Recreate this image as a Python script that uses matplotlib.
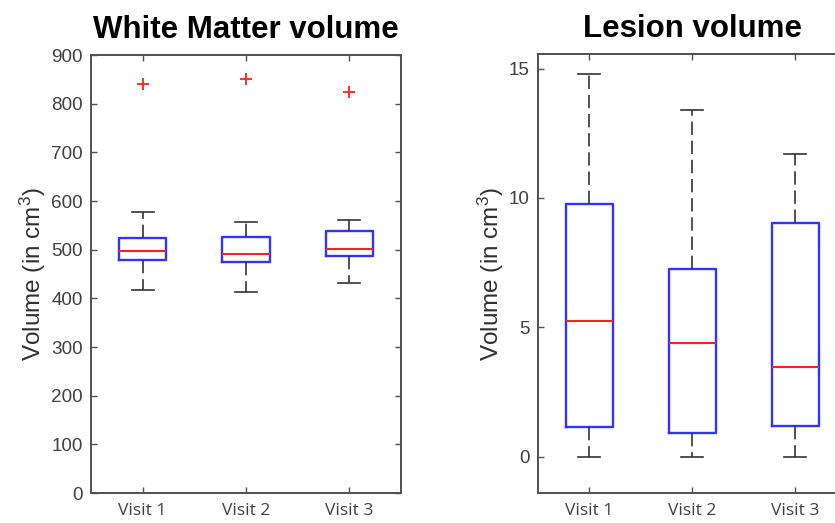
import matplotlib.pyplot as plt

# Valori (boxplot stile MATLAB)
visite = ['Visit 1', 'Visit 2', 'Visit 3']

# White Matter volume
wm_q1 = [478, 475, 488]
wm_med = [497, 491, 501]
wm_q3 = [524, 526, 539]
wm_lo = [418, 414, 432]
wm_hi = [577, 557, 560]
wm_out = [[841], [851], [825]]

# Lesion volume
les_q1 = [1.16, 0.90, 1.17]
les_med = [5.24, 4.39, 3.48]
les_q3 = [9.75, 7.26, 9.04]
les_lo = [0.0, 0.0, 0.0]
les_hi = [14.79, 13.40, 11.70]
les_out = [[], [], []]

plt.rcParams['font.family'] = ['Liberation Sans', 'DejaVu Sans']
plt.rcParams['mathtext.fontset'] = 'custom'
plt.rcParams['mathtext.rm'] = 'Liberation Sans'
plt.rcParams['mathtext.it'] = 'Liberation Sans'

SPINE = '#505050'
TXT = '#404040'


def make_stats(q1, med, q3, lo, hi, out):
    stats = []
    for i in range(len(med)):
        stats.append(dict(q1=q1[i], med=med[i], q3=q3[i], whislo=lo[i],
                          whishi=hi[i], fliers=out[i], label=visite[i]))
    return stats


def disegna(ax, stats, ylim, yticks, titolo):
    ax.bxp(stats, positions=[1, 2, 3], widths=0.46, capwidths=0.21,
           boxprops=dict(color='#3333ff', linewidth=1.7),
           medianprops=dict(color='#ff2020', linewidth=1.5),
           whiskerprops=dict(color='#333333', linewidth=1.2, linestyle=(0, (8, 3.5))),
           capprops=dict(color='#333333', linewidth=1.2),
           flierprops=dict(marker='+', markeredgecolor='#ff2020', markersize=9,
                           markeredgewidth=1.3, linestyle='none'))
    ax.set_xlim(0.5, 3.5)
    ax.set_ylim(*ylim)
    ax.set_yticks(yticks)
    ax.set_xticks([1, 2, 3])
    ax.set_xticklabels(visite, fontfamily='Open Sans', fontsize=12.5, color=TXT)
    ax.tick_params(axis='y', labelsize=13.6, labelcolor=TXT, pad=6)
    ax.tick_params(axis='x', pad=7)
    ax.tick_params(direction='in', length=4, width=1, color=SPINE,
                   top=True, right=True)
    for sp in ax.spines.values():
        sp.set_color(SPINE)
        sp.set_linewidth(1.4)
    ax.set_ylabel('Volume (in cm$^3$)', fontsize=17.5, color='#303030', labelpad=2)
    ax.set_title(titolo, fontsize=22.5, fontweight='bold', color='black', pad=12.5)


fig = plt.figure(figsize=(8.35, 5.23), dpi=100)
ax1 = fig.add_axes([91 / 835, 30 / 523, 310 / 835, 438 / 523])
ax2 = fig.add_axes([537.7 / 835, 30 / 523, 309 / 835, 438.7 / 523])

disegna(ax1, make_stats(wm_q1, wm_med, wm_q3, wm_lo, wm_hi, wm_out),
        (0, 900), range(0, 901, 100), 'White Matter volume')
disegna(ax2, make_stats(les_q1, les_med, les_q3, les_lo, les_hi, les_out),
        (-1.4, 15.55), [0, 5, 10, 15], 'Lesion volume')

fig.savefig('out.png', dpi=100)
